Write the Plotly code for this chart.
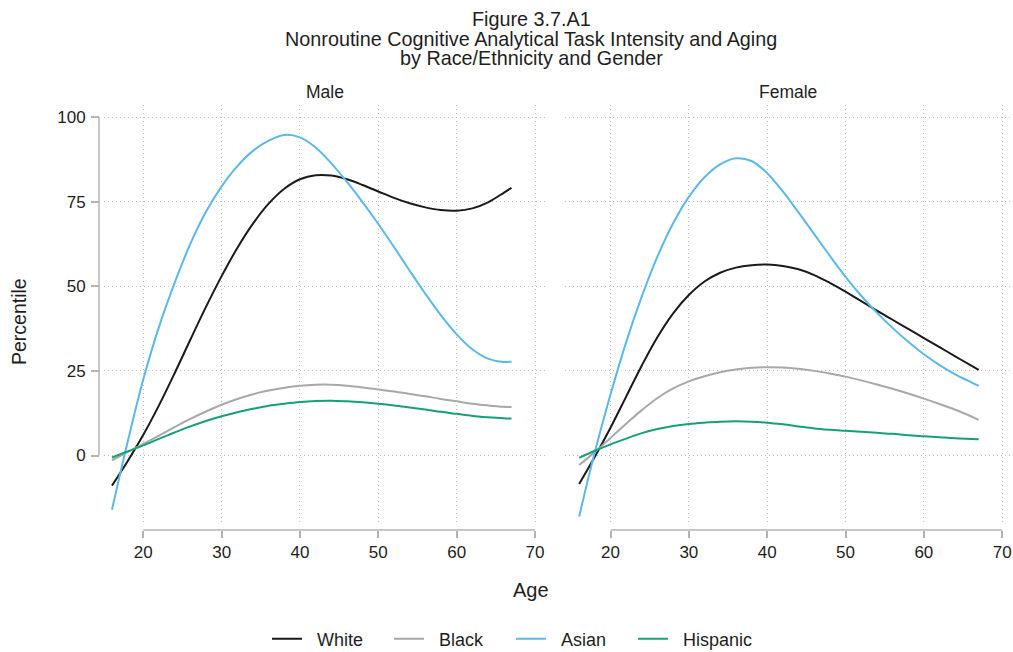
import plotly.graph_objects as go

ages = [16, 18, 20, 22, 24, 26, 28, 30, 32, 34, 36, 38, 40, 42, 44, 46, 48, 50,
        52, 54, 56, 58, 60, 62, 64, 66, 67]

male_white = [-8.9, -1.7, 6.1, 14.8, 24.3, 34.2, 43.9, 53.0, 61.3, 68.5, 74.4, 78.8, 81.6,
              82.8, 82.7, 81.6, 79.9, 78.0, 76.1, 74.5, 73.3, 72.5, 72.3, 73.0, 74.8, 77.6, 79.1]
male_black = [-1.4, 1.0, 3.4, 5.9, 8.4, 10.8, 13.0, 15.0, 16.7, 18.1, 19.2, 20.0, 20.6,
              20.9, 20.9, 20.6, 20.1, 19.5, 18.9, 18.2, 17.5, 16.7, 16.0, 15.3, 14.8, 14.4, 14.3]
male_asian = [-16.0, 4.0, 22.5, 38.0, 51.0, 62.5, 72.0, 79.5, 85.5, 90.0, 93.0, 94.7, 94.0,
              91.0, 86.3, 80.8, 74.8, 68.4, 61.6, 54.6, 47.8, 41.4, 35.8, 31.4, 28.6, 27.6, 27.8]
male_hispanic = [-0.6, 1.2, 3.0, 4.9, 6.8, 8.6, 10.2, 11.6, 12.8, 13.8, 14.7, 15.3, 15.8,
                 16.1, 16.2, 16.0, 15.7, 15.3, 14.8, 14.2, 13.6, 12.9, 12.3, 11.7, 11.3, 11.0, 10.9]

female_white = [-8.4, -0.4, 8.2, 17.4, 26.6, 35.0, 42.0, 47.4, 51.4, 54.0, 55.5, 56.2, 56.4,
                56.0, 55.0, 53.3, 51.0, 48.4, 45.6, 42.8, 40.1, 37.4, 34.7, 32.0, 29.3, 26.6, 25.3]
female_black = [-2.8, 1.0, 5.2, 9.4, 13.4, 17.0, 19.8, 21.9, 23.4, 24.6, 25.4, 25.9, 26.1,
                26.0, 25.6, 25.0, 24.2, 23.3, 22.2, 21.0, 19.7, 18.3, 16.8, 15.2, 13.5, 11.6, 10.5]
female_asian = [-18.0, 1.0, 18.0, 33.5, 47.0, 58.8, 68.6, 76.4, 82.2, 86.0, 87.8, 87.0, 83.4,
                78.0, 71.8, 65.4, 59.0, 52.8, 47.2, 42.2, 37.7, 33.6, 29.9, 26.7, 24.0, 21.7, 20.6]
female_hispanic = [-0.7, 1.4, 3.3, 5.0, 6.6, 7.8, 8.7, 9.3, 9.7, 10.0, 10.1, 10.0, 9.7,
                   9.2, 8.6, 8.0, 7.6, 7.3, 7.0, 6.7, 6.4, 6.0, 5.7, 5.4, 5.1, 4.9, 4.8]

groups = ["White", "Black", "Asian", "Hispanic"]
colors = {"White": "#1a1a1a", "Black": "#a8a8a8", "Asian": "#5bb8ea", "Hispanic": "#17a078"}
male = {"White": male_white, "Black": male_black, "Asian": male_asian, "Hispanic": male_hispanic}
female = {"White": female_white, "Black": female_black, "Asian": female_asian, "Hispanic": female_hispanic}

x_ticks = [20, 30, 40, 50, 60, 70]
y_ticks = [0, 25, 50, 75, 100]
panel_titles = ["Male", "Female"]
title_lines = ["Figure 3.7.A1", "Nonroutine Cognitive Analytical Task Intensity and Aging",
               "by Race/Ethnicity and Gender"]

W, H = 1013, 652
FONT = "Liberation Sans, Arial, sans-serif"
TXT = "#1e1e1e"
AXC = "#b4b4b4"
GRID = "#bdbdbd"
DOT = "1px,3px"
NB = "\u00a0\u00a0"

px_x = lambda p: p / W
px_y = lambda p: 1 - p / H

fig = go.Figure()
for g in groups:
    fig.add_trace(go.Scatter(x=ages, y=male[g], mode="lines", name=NB + g, legendgroup=g,
                             line=dict(color=colors[g], width=2, shape="spline", smoothing=1.0),
                             xaxis="x", yaxis="y", hoverinfo="skip"))
for g in groups:
    fig.add_trace(go.Scatter(x=ages, y=female[g], mode="lines", name=NB + g, legendgroup=g,
                             showlegend=False,
                             line=dict(color=colors[g], width=2, shape="spline", smoothing=1.0),
                             xaxis="x2", yaxis="y2", hoverinfo="skip"))

y_dom = [px_y(523), px_y(105)]
ypx0, ypx100 = 455.5, 117.0
per = (ypx0 - ypx100) / 100.0
y_range = [-(523 - ypx0) / per, 100 + (ypx100 - 105) / per]

def x_range(left_px, right_px, px20, px70):
    s = (px70 - px20) / 50.0
    return [20 - (px20 - left_px) / s, 70 + (right_px - px70) / s]

xr1 = x_range(104, 545, 143.3, 535.0)
xr2 = x_range(565, 1010, 610.5, 1002.2)

common_x = dict(tickvals=x_ticks, ticks="outside", ticklen=7, tickwidth=1.5, tickcolor=AXC,
                showline=False, zeroline=False, showgrid=True, gridcolor=GRID, gridwidth=1,
                griddash=DOT, tickfont=dict(size=17, color=TXT, family=FONT),
                anchor="free", position=px_y(530), ticklabelstandoff=0)

fig.update_layout(
    width=W, height=H,
    margin=dict(l=0, r=0, t=0, b=0, autoexpand=False),
    paper_bgcolor="white", plot_bgcolor="white",
    font=dict(family=FONT, color=TXT),
    xaxis=dict(domain=[px_x(104), px_x(545)], range=xr1, **common_x),
    xaxis2=dict(domain=[px_x(565), px_x(1010)], range=xr2, **common_x),
    yaxis=dict(domain=y_dom, range=y_range, tickvals=y_ticks, ticks="outside", ticklen=8,
               tickwidth=1.5, tickcolor=AXC, showline=False, zeroline=False, showgrid=True,
               gridcolor=GRID, gridwidth=1, griddash=DOT,
               tickfont=dict(size=17, color=TXT, family=FONT),
               anchor="free", position=px_x(99), ticklabelstandoff=2),
    yaxis2=dict(domain=y_dom, range=y_range, tickvals=y_ticks, ticks="", showticklabels=False,
                showline=False, zeroline=False, showgrid=True, gridcolor=GRID, gridwidth=1,
                griddash=DOT, anchor="x2"),
    showlegend=True,
    legend=dict(orientation="h", x=px_x(511), xanchor="center", y=px_y(639), yanchor="middle",
                font=dict(size=18, color=TXT, family=FONT), bgcolor="rgba(0,0,0,0)",
                entrywidth=77, entrywidthmode="pixels", itemwidth=30),
)

# axis lines (styling only, spanning the tick range)
fig.add_shape(type="line", xref="x", yref="paper", x0=x_ticks[0], x1=x_ticks[-1],
              y0=px_y(530), y1=px_y(530), line=dict(color=AXC, width=1.5))
fig.add_shape(type="line", xref="x2", yref="paper", x0=x_ticks[0], x1=x_ticks[-1],
              y0=px_y(530), y1=px_y(530), line=dict(color=AXC, width=1.5))
fig.add_shape(type="line", xref="paper", yref="y", x0=px_x(99), x1=px_x(99),
              y0=y_ticks[0], y1=y_ticks[-1], line=dict(color=AXC, width=1.5))

# titles
for t, yy in zip(title_lines, [19, 39, 58]):
    fig.add_annotation(text=t, xref="paper", yref="paper", x=px_x(531), y=px_y(yy),
                       xanchor="center", yanchor="middle", showarrow=False,
                       font=dict(size=19.8, color=TXT, family=FONT))
for t, cx in zip(panel_titles, [324.5, 787.5]):
    fig.add_annotation(text=t, xref="paper", yref="paper", x=px_x(cx), y=px_y(92),
                       xanchor="center", yanchor="middle", showarrow=False,
                       font=dict(size=17.5, color=TXT, family=FONT))
fig.add_annotation(text="Age", xref="paper", yref="paper", x=px_x(531), y=px_y(590),
                   xanchor="center", yanchor="middle", showarrow=False,
                   font=dict(size=20, color=TXT, family=FONT))
fig.add_annotation(text="Percentile", xref="paper", yref="paper", x=px_x(19), y=px_y(322),
                   xanchor="center", yanchor="middle", showarrow=False, textangle=-90,
                   font=dict(size=19.5, color=TXT, family=FONT))

fig.write_html("out.html", config={"displayModeBar": False},
               post_script="document.body.style.margin='0';")
